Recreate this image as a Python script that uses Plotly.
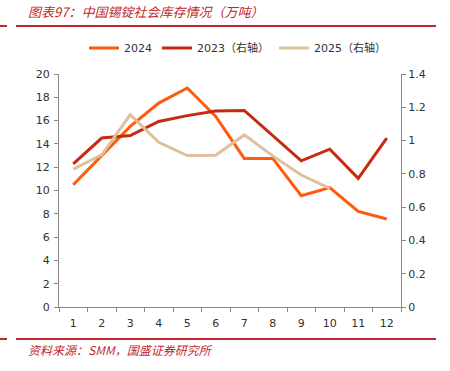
import plotly.graph_objects as go

months = ["1", "2", "3", "4", "5", "6", "7", "8", "9", "10", "11", "12"]
s2024 = [10.5, 13.0, 15.5, 17.5, 18.8, 16.35, 12.75, 12.75, 9.55, 10.25, 8.2, 7.55]
s2023 = [0.86, 1.015, 1.03, 1.115, 1.15, 1.178, 1.181, 1.03, 0.878, 0.948, 0.773, 1.015]
s2025 = [0.828, 0.914, 1.155, 0.99, 0.91, 0.912, 1.034, 0.908, 0.793, 0.713]

W, H = 450, 371
L, R, T, B = 59, 401, 74, 307


def px(x):
    return (x - L) / (R - L)


def py(y):
    return (B - y) / (B - T)


RED = "#C0282E"
fig = go.Figure()
fig.add_trace(go.Scatter(x=months, y=s2024, name="2024", mode="lines",
                         line=dict(color="#FF5A0F", width=3)))
fig.add_trace(go.Scatter(x=months, y=s2023, name="2023（右轴）", mode="lines",
                         line=dict(color="#C42B10", width=3), yaxis="y2"))
fig.add_trace(go.Scatter(x=months[:len(s2025)], y=s2025, name="2025（右轴）", mode="lines",
                         line=dict(color="#DCC19C", width=3), yaxis="y2"))

tickfont = dict(family="DejaVu Sans, Verdana, sans-serif", size=11, color="#333333")
fig.update_layout(
    width=W, height=H,
    margin=dict(l=L, r=W - R, t=T, b=H - B, pad=0, autoexpand=False),
    paper_bgcolor="white", plot_bgcolor="white",
    showlegend=True,
    legend=dict(orientation="h", x=px(84), xanchor="left", y=py(48), yanchor="middle",
                font=dict(family="DejaVu Sans, Noto Sans CJK SC, sans-serif", size=11, color="#333333"),
                itemwidth=30, tracegroupgap=0, bgcolor="rgba(0,0,0,0)"),
    xaxis=dict(type="category", tickson="boundaries", ticks="outside", ticklen=4,
               range=[-0.5, 11.5], ticklabelstandoff=6,
               tickcolor="#888888", showline=True, linecolor="#888888", linewidth=1,
               showgrid=False, tickfont=tickfont, zeroline=False),
    yaxis=dict(range=[0, 20], dtick=2, ticks="outside", ticklen=4, tickcolor="#888888",
               showline=True, linecolor="#888888", linewidth=1, showgrid=False,
               zeroline=False, tickfont=tickfont, ticklabelstandoff=2),
    yaxis2=dict(range=[0, 1.4], dtick=0.2, overlaying="y", side="right", ticks="outside",
                ticklen=4, tickcolor="#888888", showline=True, linecolor="#888888",
                linewidth=1, showgrid=False, zeroline=False, tickfont=tickfont),
    annotations=[
        dict(text="<i>图表97：中国锡锭社会库存情况（万吨）</i>", xref="paper", yref="paper",
             x=px(26), y=py(12), xanchor="left", yanchor="middle", showarrow=False,
             font=dict(family="Noto Sans CJK SC, sans-serif", size=13, color=RED)),
        dict(text="<i>资料来源：SMM，国盛证券研究所</i>", xref="paper", yref="paper",
             x=px(26), y=py(349), xanchor="left", yanchor="middle", showarrow=False,
             font=dict(family="Noto Sans CJK SC, sans-serif", size=12, color=RED)),
    ],
    shapes=[
        dict(type="line", xref="paper", yref="paper", x0=px(0), x1=px(7), y0=py(26), y1=py(26),
             line=dict(color=RED, width=2)),
        dict(type="line", xref="paper", yref="paper", x0=px(16), x1=px(436), y0=py(26), y1=py(26),
             line=dict(color=RED, width=2)),
        dict(type="line", xref="paper", yref="paper", x0=px(0), x1=px(7), y0=py(339), y1=py(339),
             line=dict(color=RED, width=2)),
        dict(type="line", xref="paper", yref="paper", x0=px(16), x1=px(436), y0=py(339), y1=py(339),
             line=dict(color=RED, width=2)),
    ],
)
fig.write_html("out.html", config={"displayModeBar": False},
               post_script="document.body.style.margin='0';document.body.style.overflow='hidden';")
